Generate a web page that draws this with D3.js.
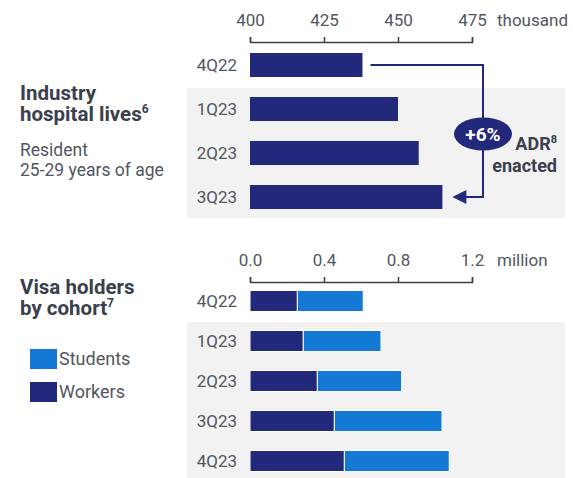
<!DOCTYPE html>
<html>
<head>
<meta charset="utf-8">
<script src="https://cdn.jsdelivr.net/npm/d3@7"></script>
<style>
  body { margin: 0; background: #fff; }
  svg { display: block; font-family: Roboto, "DejaVu Sans", sans-serif; }
</style>
</head>
<body>
<svg id="chart" width="573" height="478"></svg>
<script>
// top chart: industry hospital lives (thousand)
const livesQuarters = ["4Q22", "1Q23", "2Q23", "3Q23"];
const livesValues = [438, 450, 457, 465];
const livesTicks = [400, 425, 450, 475];

// bottom chart: visa holders by cohort (million)
const visaQuarters = ["4Q22", "1Q23", "2Q23", "3Q23", "4Q23"];
const workers = [0.256, 0.288, 0.364, 0.456, 0.51];
const students = [0.356, 0.42, 0.456, 0.582, 0.567];
const visaTicks = [0, 0.4, 0.8, 1.2];
const seriesNames = ["Students", "Workers"];

const color = {
  workers: "#22287a",
  students: "#1479d4",
  heading: "#3a404c",
  label: "#51565f",
  band: "#f2f2f2",
};

const svg = d3.select("#chart");

function drawAxis(g, x, ticks, fmt, unit) {
  const axis = d3.axisTop(x).tickValues(ticks).tickFormat(fmt)
    .tickSize(5).tickSizeOuter(5).tickPadding(11);
  g.call(axis);
  g.select(".domain").attr("stroke", color.heading).attr("stroke-width", 1.5);
  g.selectAll(".tick line").attr("stroke", color.heading).attr("stroke-width", 1.5);
  g.selectAll(".tick text")
    .attr("fill", color.label)
    .style("font-size", "17px")
    .style("font-family", "Roboto, sans-serif");
  g.append("text")
    .attr("x", x.range()[1] + 25)
    .attr("y", -16)
    .attr("text-anchor", "start")
    .attr("fill", color.label)
    .style("font-size", "17px")
    .style("font-family", "Roboto, sans-serif")
    .text(unit);
}

// ---------- top chart ----------
const x1 = d3.scaleLinear().domain([400, 475]).range([250, 472]);
const y1 = d3.scaleBand().domain(livesQuarters).range([43, 219])
  .paddingInner(20 / 44).paddingOuter(10 / 44);

svg.append("rect")
  .attr("x", 187).attr("y", 88).attr("width", 378).attr("height", 130)
  .attr("fill", color.band);

drawAxis(svg.append("g").attr("transform", "translate(0,42)"),
  x1, livesTicks, d3.format("d"), "thousand");

svg.append("g")
  .selectAll("rect")
  .data(livesValues)
  .join("rect")
  .attr("x", x1(400))
  .attr("y", (d, i) => y1(livesQuarters[i]))
  .attr("width", (d) => x1(d) - x1(400))
  .attr("height", y1.bandwidth())
  .attr("fill", color.workers);

svg.append("g")
  .selectAll("text")
  .data(livesQuarters)
  .join("text")
  .attr("x", 237)
  .attr("y", (d) => y1(d) + y1.bandwidth() / 2)
  .attr("dy", "0.36em")
  .attr("text-anchor", "end")
  .attr("fill", color.label)
  .style("font-size", "17px")
  .text((d) => d);

// arrow from first to last bar
const first = livesQuarters[0], last = livesQuarters[livesQuarters.length - 1];
const yA = y1(first) + y1.bandwidth() / 2;
const yB = y1(last) + y1.bandwidth() / 2;
const xTurn = 483;
svg.append("path")
  .attr("d", `M${x1(livesValues[0]) + 8},${yA}H${xTurn}V${yB}H${x1(livesValues[3]) + 22}`)
  .attr("fill", "none")
  .attr("stroke", color.workers)
  .attr("stroke-width", 2);
svg.append("path")
  .attr("d", `M${x1(livesValues[3]) + 10},${yB}l14,-7v14z`)
  .attr("fill", color.workers);

svg.append("ellipse")
  .attr("cx", 483).attr("cy", 134).attr("rx", 29).attr("ry", 16.5)
  .attr("fill", color.workers);
svg.append("text")
  .attr("x", 483).attr("y", 134).attr("dy", "0.36em")
  .attr("text-anchor", "middle")
  .attr("fill", "#fff")
  .style("font-size", "19px").style("font-weight", "bold")
  .text("+6%");

const adr = svg.append("text")
  .attr("text-anchor", "end")
  .attr("fill", color.heading)
  .style("font-size", "18px").style("font-weight", "bold");
adr.append("tspan").attr("x", 557).attr("y", 150).text("ADR")
  .append("tspan").attr("dy", -7).style("font-size", "11px").text("8");
adr.append("tspan").attr("x", 557).attr("y", 172).text("enacted");

// ---------- bottom chart ----------
const x2 = d3.scaleLinear().domain([0, 1.2]).range([250, 472]);
const y2 = d3.scaleBand().domain(visaQuarters).range([281, 481])
  .paddingInner(19 / 40).paddingOuter(9.5 / 40);

svg.append("rect")
  .attr("x", 187).attr("y", 322).attr("width", 378).attr("height", 156)
  .attr("fill", color.band);

drawAxis(svg.append("g").attr("transform", "translate(0,282)"),
  x2, visaTicks, d3.format(".1f"), "million");

const stackData = visaQuarters.map((q, i) => ({ q, Workers: workers[i], Students: students[i] }));
const stacked = d3.stack().keys(["Workers", "Students"])(stackData);

svg.append("g")
  .selectAll("g")
  .data(stacked)
  .join("g")
  .attr("fill", (s) => (s.key == "Workers" ? color.workers : color.students))
  .selectAll("rect")
  .data((s) => s)
  .join("rect")
  .attr("x", (d) => x2(d[0]))
  .attr("y", (d) => y2(d.data.q))
  .attr("width", (d) => x2(d[1]) - x2(d[0]))
  .attr("height", y2.bandwidth())
  .attr("stroke", "#fff")
  .attr("stroke-width", 1);

svg.append("g")
  .selectAll("text")
  .data(visaQuarters)
  .join("text")
  .attr("x", 237)
  .attr("y", (d) => y2(d) + y2.bandwidth() / 2)
  .attr("dy", "0.36em")
  .attr("text-anchor", "end")
  .attr("fill", color.label)
  .style("font-size", "17px")
  .text((d) => d);

// ---------- left side titles ----------
function heading(lines, y0, sup) {
  const t = svg.append("text")
    .attr("fill", color.heading)
    .style("font-size", "20.5px").style("font-weight", "bold");
  lines.forEach((l, i) => {
    const span = t.append("tspan").attr("x", 20).attr("y", y0 + i * 21).text(l);
    if (i == lines.length - 1) {
      span.append("tspan").attr("dy", -8).style("font-size", "12px").text(sup);
    }
  });
}
heading(["Industry", "hospital lives"], 100, "6");
heading(["Visa holders", "by cohort"], 294, "7");

svg.append("text")
  .attr("fill", color.label)
  .style("font-size", "17.5px")
  .selectAll("tspan")
  .data(["Resident", "25-29 years of age"])
  .join("tspan")
  .attr("x", 20)
  .attr("y", (d, i) => 156 + i * 20)
  .text((d) => d);

// legend
const legend = svg.append("g")
  .selectAll("g")
  .data(seriesNames)
  .join("g")
  .attr("transform", (d, i) => `translate(30,${349 + i * 33})`);
legend.append("rect")
  .attr("width", 27).attr("height", 20)
  .attr("fill", (d) => (d == "Workers" ? color.workers : color.students));
legend.append("text")
  .attr("x", 29).attr("y", 10).attr("dy", "0.36em")
  .attr("fill", color.label)
  .style("font-size", "18px")
  .text((d) => d);
</script>
</body>
</html>
